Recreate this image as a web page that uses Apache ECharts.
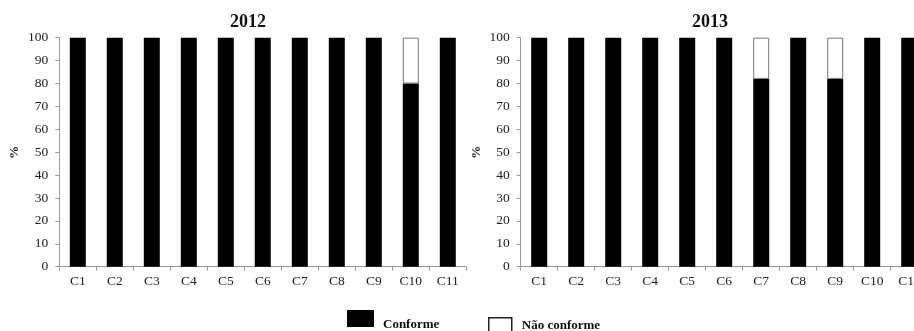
<!DOCTYPE html>
<html>
<head>
<meta charset="utf-8">
<script src="https://cdn.jsdelivr.net/npm/echarts@6/dist/echarts.min.js"></script>
<style>html,body{margin:0;padding:0;background:#fff;}#c{width:914px;height:331px;}</style>
</head>
<body>
<div id="c"></div>
<script>
var categories = ['C1','C2','C3','C4','C5','C6','C7','C8','C9','C10','C11'];
var conforme2012 = [100,100,100,100,100,100,100,100,100,80,100];
var naoConforme2012 = [0,0,0,0,0,0,0,0,0,20,0];
var conforme2013 = [100,100,100,100,100,100,82,100,82,100,100];
var naoConforme2013 = [0,0,0,0,0,0,18,0,18,0,0];
var yTicks = [0,10,20,30,40,50,60,70,80,90,100];

var font = 'Liberation Serif';
var chart = echarts.init(document.getElementById('c'));

function xAxis(gi){
  return {
    type:'category', gridIndex:gi, data:categories,
    axisLine:{lineStyle:{color:'#9a9a9a',width:1}},
    axisTick:{show:true,length:4,lineStyle:{color:'#9a9a9a'}},
    axisLabel:{color:'#222',fontFamily:font,fontSize:13.5,margin:8}
  };
}
function yAxis(gi){
  return {
    type:'value', gridIndex:gi, min:yTicks[0], max:yTicks[yTicks.length-1], interval:10,
    name:'%', nameLocation:'middle', nameGap:38, nameRotate:90,
    nameTextStyle:{color:'#222',fontFamily:font,fontSize:13,fontWeight:'bold'},
    axisLine:{show:true,lineStyle:{color:'#9a9a9a',width:1}},
    axisTick:{show:true,length:4,lineStyle:{color:'#9a9a9a'}},
    splitLine:{show:false},
    axisLabel:{color:'#222',fontFamily:font,fontSize:13.5,margin:11}
  };
}
function zeroNull(arr){ return arr.map(function(v){return v===0?null:v;}); }

chart.setOption({
  animation:false,
  title:[
    {text:'2012',left:243,top:8,textAlign:'center',textStyle:{fontFamily:font,fontSize:18,fontWeight:'bold',color:'#111'}},
    {text:'2013',left:705,top:8,textAlign:'center',textStyle:{fontFamily:font,fontSize:18,fontWeight:'bold',color:'#111'}}
  ],
  legend:[
    {data:['Conforme'],left:342,top:305,padding:5,icon:'rect',itemWidth:27,itemHeight:17,itemGap:8,
     formatter:'{a|{name}}',
     textStyle:{fontFamily:font,fontSize:13,fontWeight:'bold',color:'#111',
       rich:{a:{fontFamily:font,fontSize:13,fontWeight:'bold',color:'#111',padding:[12,0,0,4]}}}},
    {data:[{name:'Não conforme',itemStyle:{borderColor:'#222',borderWidth:1.5}}],left:483,top:312,padding:5,icon:'rect',itemWidth:23,itemHeight:20,itemGap:8,
     formatter:'{a|{name}}',
     textStyle:{fontFamily:font,fontSize:13,fontWeight:'bold',color:'#111',
       rich:{a:{fontFamily:font,fontSize:13,fontWeight:'bold',color:'#111',padding:[0,0,4,5]}}}}
  ],
  grid:[
    {left:59.3,top:37.7,width:407,bottom:64.3,containLabel:false,outerBoundsMode:'none'},
    {left:520.7,top:37.7,width:407,bottom:64.3,containLabel:false,outerBoundsMode:'none'}
  ],
  xAxis:[xAxis(0),xAxis(1)],
  yAxis:[yAxis(0),yAxis(1)],
  series:[
    {name:'Conforme',type:'bar',stack:'a',xAxisIndex:0,yAxisIndex:0,barWidth:16,data:conforme2012,
     itemStyle:{color:'#000'}},
    {name:'Não conforme',type:'bar',stack:'a',xAxisIndex:0,yAxisIndex:0,barWidth:16,data:zeroNull(naoConforme2012),
     itemStyle:{color:'#fff',borderColor:'#777',borderWidth:1}},
    {name:'Conforme',type:'bar',stack:'b',xAxisIndex:1,yAxisIndex:1,barWidth:16,data:conforme2013,
     itemStyle:{color:'#000'}},
    {name:'Não conforme',type:'bar',stack:'b',xAxisIndex:1,yAxisIndex:1,barWidth:16,data:zeroNull(naoConforme2013),
     itemStyle:{color:'#fff',borderColor:'#777',borderWidth:1}}
  ]
});
</script>
</body>
</html>
